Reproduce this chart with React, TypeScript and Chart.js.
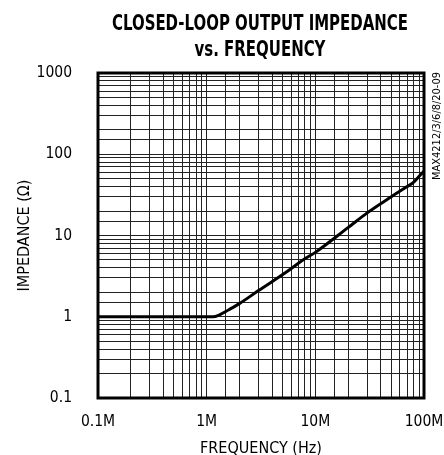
import React, { useEffect, useRef } from "react";
import { Chart, registerables } from "chart.js";

Chart.register(...registerables);

const titleLines = ["CLOSED-LOOP OUTPUT IMPEDANCE", "vs. FREQUENCY"];
const sideNote = "MAX4212/3/6/8/20-09";
const xAxisTitle = "FREQUENCY (Hz)";
const yAxisTitle = "IMPEDANCE (Ω)";

const frequencyHz = [1e5, 3e5, 6e5, 1.0e6, 1.15e6, 1.3e6, 1.6e6, 2e6, 3e6, 5.5e6, 7.7e6, 1e7, 2e7, 3e7, 5e7, 7e7, 8e7, 9.2e7, 1e8];
const impedanceOhm = [1, 1, 1, 1, 1, 1.05, 1.22, 1.45, 2.1, 3.6, 5.0, 6.2, 12.5, 19, 30, 40, 45, 55, 62];

const xTickValues = [1e5, 1e6, 1e7, 1e8];
const xTickLabels = ["0.1M", "1M", "10M", "100M"];
const yTickValues = [0.1, 1, 10, 100, 1000];
const yTickLabels = ["0.1", "1", "10", "100", "1000"];

const NARROW = '"Liberation Sans Narrow", "Arial Narrow", "DejaVu Sans Condensed", "Liberation Sans", sans-serif';

function labelFor(values: number[], labels: string[], v: number): string {
  const i = values.findIndex((t) => Math.abs(Math.log10(t) - Math.log10(v)) < 1e-6);
  return i >= 0 ? labels[i] : "";
}

const decorPlugin = {
  id: "decor",
  afterDraw(chart: any) {
    const { ctx, chartArea } = chart;
    ctx.save();
    ctx.strokeStyle = "#000";
    ctx.lineWidth = 3;
    ctx.strokeRect(chartArea.left, chartArea.top, chartArea.right - chartArea.left, chartArea.bottom - chartArea.top);
    ctx.fillStyle = "#000";
    ctx.textAlign = "center";
    ctx.textBaseline = "middle";
    ctx.font = `bold 21px ${NARROW}`;
    const w0 = ctx.measureText(titleLines[0]).width;
    const sx = 296 / w0;
    const cx = 260;
    const ys = [25, 51];
    titleLines.forEach((line, i) => {
      ctx.save();
      ctx.translate(cx, ys[i]);
      ctx.scale(sx, 1);
      ctx.fillText(line, 0, 0);
      ctx.restore();
    });
    ctx.font = `10px ${NARROW}`;
    const wn = ctx.measureText(sideNote).width;
    const sn = 108 / wn;
    ctx.save();
    ctx.translate(437, 126);
    ctx.rotate(-Math.PI / 2);
    ctx.scale(sn, 1);
    ctx.fillText(sideNote, 0, 0);
    ctx.restore();
    ctx.restore();
  },
};

export default function App() {
  const ref = useRef<HTMLCanvasElement | null>(null);
  useEffect(() => {
    if (!ref.current) return;
    const chart = new Chart(ref.current, {
      type: "line",
      data: {
        datasets: [
          {
            data: frequencyHz.map((f, i) => ({ x: f, y: impedanceOhm[i] })),
            borderColor: "#000",
            borderWidth: 3,
            pointRadius: 0,
            cubicInterpolationMode: "monotone",
            fill: false,
          },
        ],
      },
      options: {
        animation: false,
        responsive: false,
        layout: { padding: { top: 73, right: 20, left: 0, bottom: 0 } },
        plugins: { legend: { display: false }, tooltip: { enabled: false }, title: { display: false } },
        scales: {
          x: {
            type: "logarithmic",
            min: 1e5,
            max: 1e8,
            afterFit: (s: any) => {
              s.height = 57;
              s.paddingLeft = 0;
              s.paddingRight = 0;
            },
            border: { display: false },
            grid: { color: "#222", lineWidth: 1, drawTicks: false },
            ticks: {
              autoSkip: false,
              maxRotation: 0,
              padding: 15,
              color: "#000",
              font: { family: NARROW, size: 15.5 },
              callback: (v: any) => labelFor(xTickValues, xTickLabels, Number(v)),
            },
            title: {
              display: true,
              text: xAxisTitle,
              color: "#000",
              font: { family: NARROW, size: 16 },
              padding: { top: 0, bottom: -3 },
            },
          },
          y: {
            type: "logarithmic",
            min: 0.1,
            max: 1000,
            afterFit: (s: any) => {
              s.width = 98;
              s.paddingTop = 0;
              s.paddingBottom = 0;
            },
            border: { display: false },
            grid: { color: "#222", lineWidth: 1, drawTicks: false },
            ticks: {
              autoSkip: false,
              padding: 26,
              color: "#000",
              font: { family: NARROW, size: 15.5 },
              callback: (v: any) => labelFor(yTickValues, yTickLabels, Number(v)),
            },
            title: {
              display: true,
              text: yAxisTitle,
              color: "#000",
              font: { family: NARROW, size: 16 },
              padding: { top: 15, bottom: 0 },
            },
          },
        },
      },
      plugins: [decorPlugin],
    } as any);
    return () => chart.destroy();
  }, []);
  return (
    <div style={{ position: "absolute", left: 0, top: 0, width: 444, height: 455, background: "#fff" }}>
      <canvas ref={ref} width={444} height={455} />
    </div>
  );
}
